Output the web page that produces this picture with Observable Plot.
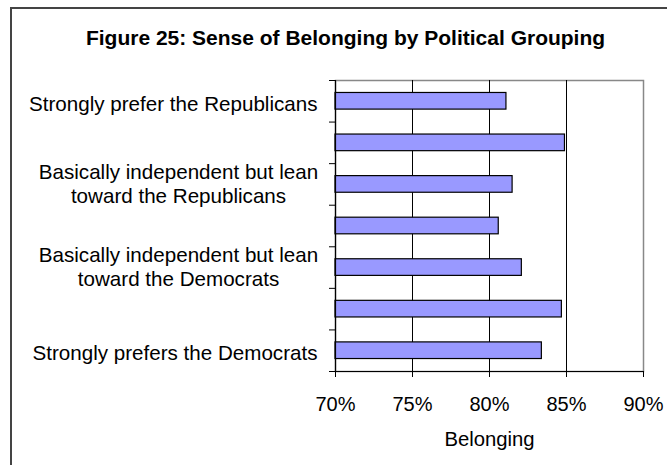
<!DOCTYPE html>
<html><head><meta charset="utf-8">
<script src="https://cdn.jsdelivr.net/npm/d3@7"></script>
<script src="https://cdn.jsdelivr.net/npm/@observablehq/plot@0.6"></script>
<style>
body{margin:0;background:#fff;font-family:"Liberation Sans",Arial,sans-serif;}
#wrap{position:relative;width:667px;height:465px;overflow:hidden;background:#fff;}
#frame{position:absolute;left:10px;top:7px;width:700px;height:500px;border-top:2px solid #444;border-left:2px solid #444;}
#title{position:absolute;left:11px;top:27px;width:669px;text-align:center;font-weight:bold;font-size:21px;line-height:21px;color:#000;white-space:nowrap;}
#chart{position:absolute;left:0;top:60px;}
</style>
</head><body>
<div id="wrap"><div id="frame"></div><div id="title">Figure 25: Sense of Belonging by Political Grouping</div><div id="chart"></div></div>
<script>
const categories = [
  "Strongly prefer the Republicans",
  "Prefer the Republicans",
  "Basically independent but lean toward the Republicans",
  "Basically independent",
  "Basically independent but lean toward the Democrats",
  "Prefer the Democrats",
  "Strongly prefers the Democrats"
];
const belonging = [81.1, 84.9, 81.5, 80.6, 82.1, 84.7, 83.4];
const tickLabels = [
  "Strongly prefer the Republicans",
  "",
  "Basically independent but lean\ntoward the Republicans",
  "",
  "Basically independent but lean\ntoward the Democrats",
  "",
  "Strongly prefers the Democrats"
];
const xTicks = [70, 75, 80, 85, 90];
const gridValues = [75, 80, 85];
const xLabel = "Belonging";

const data = categories.map((c, i) => ({category: c, index: i, value: belonging[i], label: tickLabels[i]}));
const boundaries = d3.range(-0.5, categories.length, 1);
const half = 0.2;
const single = data.filter(d => d.label && !d.label.includes("\n"));
const multi = data.filter(d => d.label.includes("\n"));

const chart = Plot.plot({
  width: 667,
  height: 405,
  marginTop: 20,
  marginBottom: 94,
  marginLeft: 335,
  marginRight: 24,
  style: {fontFamily: "'Liberation Sans', Arial, sans-serif", fontSize: "20px", color: "#000", background: "transparent"},
  x: {domain: [70, 90]},
  y: {domain: [-0.5, categories.length - 0.5], reverse: true},
  marks: [
    Plot.frame({stroke: "#888", strokeWidth: 1.5}),
    Plot.ruleX(gridValues, {stroke: "#000", strokeWidth: 1}),
    Plot.rectX(data, {x1: 70, x2: "value", y1: d => d.index - half, y2: d => d.index + half, fill: "#9999FF", stroke: "#000", strokeWidth: 1.2}),
    Plot.ruleX([70], {stroke: "#000", strokeWidth: 1.2}),
    Plot.ruleY([categories.length - 0.5], {stroke: "#000", strokeWidth: 1.2}),
    Plot.axisX({ticks: xTicks, tickFormat: d => d + "%", tickSize: 6, tickPadding: 19, label: null, stroke: "#000"}),
    Plot.axisY({ticks: boundaries, tickFormat: () => "", tickSize: 6, label: null, stroke: "#000"}),
    Plot.text(single, {y: "index", text: "label", frameAnchor: "left", textAnchor: "end", dx: -18, dy: 3, fontSize: 20.6}),
    Plot.text(multi, {y: "index", text: "label", frameAnchor: "left", textAnchor: "middle", dx: -157, dy: -1, lineHeight: 1.14, fontSize: 20.6}),
    Plot.text([xLabel], {frameAnchor: "bottom", lineAnchor: "bottom", dy: 74, fontSize: 20.3})
  ]
});
document.getElementById("chart").appendChild(chart);
</script>
</body></html>
